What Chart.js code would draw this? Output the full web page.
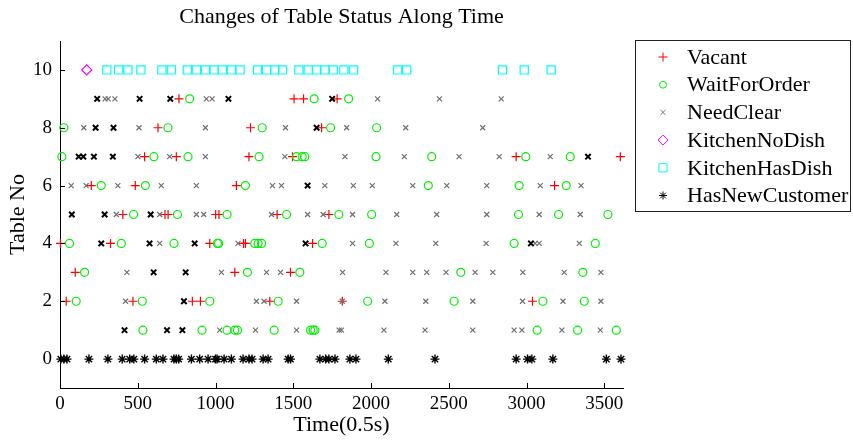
<!DOCTYPE html>
<html>
<head>
<meta charset="utf-8">
<title>Changes of Table Status Along Time</title>
<script src="https://cdn.jsdelivr.net/npm/chart.js@4.4.1/dist/chart.umd.min.js"></script>
<style>
    html, body { margin: 0; padding: 0; background: #fff; }
</style>
</head>
<body>
<canvas id="statusChart" width="853" height="443"></canvas>
<script>
// axis ticks
const timeTicks = [0, 500, 1000, 1500, 2000, 2500, 3000, 3500];
const tableTicks = [0, 2, 4, 6, 8, 10];

// [time, tableNo] pairs
const vacant = [
    [765, 9], [1505, 9], [1566, 9], [1782, 9],
    [630, 8], [1225, 8], [1682, 8],
    [544, 7], [748, 7], [1215, 7], [1495, 7], [2933, 7], [3603, 7],
    [201, 6], [484, 6], [1134, 6], [3180, 6],
    [404, 5], [675, 5], [695, 5], [1001, 5], [1022, 5], [1396, 5], [1729, 5],
    [3, 4], [325, 4], [963, 4], [1180, 4], [1192, 4], [1624, 4],
    [98, 3], [1124, 3], [1482, 3],
    [40, 2], [469, 2], [851, 2], [903, 2], [1349, 2], [1815, 2], [3038, 2]
];
const waitForOrder = [
    [834, 9], [1634, 9], [1856, 9],
    [25, 8], [694, 8], [1300, 8], [1740, 8], [2036, 8],
    [12, 7], [604, 7], [823, 7], [1280, 7], [1521, 7], [1557, 7], [1574, 7], [2032, 7], [2390, 7], [2995, 7], [3281, 7],
    [265, 6], [549, 6], [1192, 6], [2368, 6], [2952, 6], [3255, 6],
    [473, 5], [755, 5], [1074, 5], [1457, 5], [1793, 5], [2004, 5], [2948, 5], [3206, 5], [3523, 5],
    [61, 4], [394, 4], [733, 4], [1012, 4], [1020, 4], [1252, 4], [1274, 4], [1296, 4], [1686, 4], [1989, 4], [2920, 4], [3442, 4],
    [158, 3], [1205, 3], [1542, 3], [2577, 3], [3362, 3],
    [104, 2], [529, 2], [963, 2], [1403, 2], [1978, 2], [2534, 2], [3105, 2], [3371, 2],
    [533, 1], [913, 1], [1074, 1], [1124, 1], [1141, 1], [1377, 1], [1611, 1], [1628, 1], [1639, 1], [3068, 1], [3328, 1], [3577, 1]
];
const needClear = [
    [290, 9], [310, 9], [353, 9], [941, 9], [978, 9], [2042, 9], [2440, 9], [2837, 9],
    [153, 8], [508, 8], [935, 8], [1450, 8], [1843, 8], [2223, 8], [2718, 8],
    [501, 7], [705, 7], [935, 7], [1446, 7], [1832, 7], [2214, 7], [2566, 7], [2824, 7], [3152, 7],
    [72, 6], [168, 6], [372, 6], [651, 6], [877, 6], [1366, 6], [1424, 6], [1703, 6], [1886, 6], [2008, 6], [2268, 6], [2487, 6], [2744, 6], [3088, 6], [3350, 6],
    [362, 5], [641, 5], [877, 5], [924, 5], [1360, 5], [1592, 5], [1692, 5], [1881, 5], [2165, 5], [2422, 5], [2744, 5], [3081, 5], [3345, 5],
    [641, 4], [1145, 4], [1881, 4], [2160, 4], [2416, 4], [2740, 4], [3055, 4], [3081, 4], [3339, 4],
    [430, 3], [1038, 3], [1328, 3], [1418, 3], [1817, 3], [2096, 3], [2268, 3], [2358, 3], [2482, 3], [2669, 3], [2783, 3], [2976, 3], [3242, 3], [3478, 3],
    [422, 2], [1263, 2], [1312, 2], [1521, 2], [1815, 2], [2089, 2], [2352, 2], [2654, 2], [2974, 2], [3234, 2], [3478, 2],
    [1027, 1], [1257, 1], [1521, 1], [1795, 1], [1810, 1], [2083, 1], [2347, 1], [2654, 1], [2920, 1], [2970, 1], [3227, 1], [3474, 1]
];
const kitchenNoDish = [[172, 10]];
const kitchenHasDish = [
    [301, 10], [377, 10], [437, 10], [520, 10], [655, 10], [716, 10], [819, 10], [877, 10], [935, 10], [991, 10],
    [1044, 10], [1102, 10], [1158, 10], [1270, 10], [1328, 10], [1381, 10], [1431, 10], [1536, 10], [1596, 10],
    [1650, 10], [1703, 10], [1757, 10], [1825, 10], [1888, 10], [2171, 10], [2229, 10], [2845, 10], [2985, 10], [3158, 10]
];
const hasNewCustomer = [
    [239, 9], [512, 9], [709, 9], [1083, 9], [1750, 9],
    [229, 8], [344, 8], [1650, 8],
    [120, 7], [150, 7], [218, 7], [340, 7], [3395, 7],
    [1592, 6],
    [76, 5], [287, 5], [583, 5],
    [265, 4], [576, 4], [866, 4], [1579, 4], [3028, 4],
    [602, 3], [808, 3],
    [797, 2],
    [415, 1], [688, 1], [787, 1],
    [5, 0], [25, 0], [45, 0], [186, 0], [308, 0], [400, 0], [448, 0], [475, 0], [544, 0], [619, 0], [662, 0],
    [733, 0], [748, 0], [763, 0], [845, 0], [898, 0], [952, 0], [1000, 0], [1010, 0], [1055, 0], [1102, 0],
    [1177, 0], [1215, 0], [1235, 0], [1306, 0], [1338, 0], [1467, 0], [1482, 0], [1671, 0], [1708, 0],
    [1729, 0], [1768, 0], [1864, 0], [1903, 0], [2111, 0], [2411, 0], [2933, 0], [3006, 0], [3034, 0],
    [3169, 0], [3513, 0], [3607, 0]
];

const FONT = "'Liberation Serif', 'Times New Roman', serif";

function toPoints(list) {
    return list.map(p => ({ x: p[0], y: p[1] }));
}

// the asterisks on row 0 are plain stars, elsewhere they show as heavy crosses
const isStar = ctx => ctx.raw && ctx.raw.y === 0;

const datasets = [
    { label: 'Vacant', data: toPoints(vacant), pointStyle: 'cross', pointRadius: 4.5,
      pointBorderColor: '#ff0000', pointBorderWidth: 1.2, order: 5, legendStyle: 'cross', legendRadius: 4.5 },
    { label: 'WaitForOrder', data: toPoints(waitForOrder), pointStyle: 'circle', pointRadius: 4,
      pointBorderColor: '#00ee00', pointBorderWidth: 1.2, order: 4, legendStyle: 'circle', legendRadius: 3.5 },
    { label: 'NeedClear', data: toPoints(needClear), pointStyle: 'crossRot', pointRadius: 3.5,
      pointBorderColor: '#6e6e6e', pointBorderWidth: 1.2, order: 3, legendStyle: 'crossRot', legendRadius: 3.5 },
    { label: 'KitchenNoDish', data: toPoints(kitchenNoDish), pointStyle: 'rectRot', pointRadius: 5,
      pointBorderColor: '#ff00ff', pointBorderWidth: 1.2, order: 2, legendStyle: 'rectRot', legendRadius: 5 },
    { label: 'KitchenHasDish', data: toPoints(kitchenHasDish), pointStyle: 'rect', pointRadius: 5.8,
      pointBorderColor: '#00ffff', pointBorderWidth: 1.2, order: 1, legendStyle: 'rect', legendRadius: 5.8 },
    { label: 'HasNewCustomer', data: toPoints(hasNewCustomer),
      pointStyle: ctx => isStar(ctx) ? 'star' : 'crossRot',
      pointRadius: ctx => isStar(ctx) ? 4.5 : 3.8,
      pointBorderWidth: ctx => isStar(ctx) ? 1.4 : 2,
      pointBorderColor: '#000', order: 0, legendStyle: 'star', legendRadius: 4 }
];
datasets.forEach(ds => {
    ds.pointBackgroundColor = 'rgba(0,0,0,0)';
    ds.showLine = false;
    ds.clip = false;
});

// MATLAB style: inward tick marks and a boxed legend
const matlabDecor = {
    id: 'matlabDecor',
    afterDraw(chart) {
        const ctx = chart.ctx;
        const area = chart.chartArea;
        const xs = chart.scales.x, ys = chart.scales.y;
        ctx.save();
        ctx.strokeStyle = '#000';
        ctx.lineWidth = 1;
        ctx.beginPath();
        timeTicks.forEach(v => {
            const px = Math.round(xs.getPixelForValue(v)) + 0.5;
            ctx.moveTo(px, area.bottom);
            ctx.lineTo(px, area.bottom - 5);
        });
        tableTicks.forEach(v => {
            const py = Math.round(ys.getPixelForValue(v)) + 0.5;
            ctx.moveTo(area.left, py);
            ctx.lineTo(area.left + 5, py);
        });
        ctx.stroke();

        // legend
        ctx.strokeStyle = '#222';
        ctx.strokeRect(635.5, 40.5, 215, 171);
        ctx.font = '22px ' + FONT;
        ctx.textBaseline = 'middle';
        ctx.textAlign = 'left';
        chart.data.datasets.forEach((ds, i) => {
            const cy = 57 + i * 27.7;
            ctx.strokeStyle = ds.pointBorderColor;
            ctx.fillStyle = 'rgba(0,0,0,0)';
            ctx.lineWidth = 1;
            Chart.helpers.drawPoint(ctx, {
                pointStyle: ds.legendStyle, radius: ds.legendRadius, rotation: 0, borderWidth: 1
            }, 663, cy);
            ctx.fillStyle = '#000';
            ctx.fillText(ds.label, 687, cy + 1);
        });
        ctx.restore();
    }
};

new Chart(document.getElementById('statusChart'), {
    type: 'scatter',
    data: { datasets: datasets },
    options: {
        responsive: false,
        animation: false,
        events: [],
        layout: { padding: { top: 0, right: 230, bottom: 0, left: 0 } },
        plugins: {
            legend: { display: false },
            tooltip: { enabled: false },
            title: {
                display: true,
                text: 'Changes of Table Status Along Time',
                fullSize: false,
                color: '#000',
                font: { family: FONT, size: 22, weight: 'normal' },
                padding: { top: 4, bottom: 10.6 }
            }
        },
        scales: {
            x: {
                type: 'linear',
                min: 0,
                max: 3620,
                afterBuildTicks: s => { s.ticks = timeTicks.map(v => ({ value: v })); },
                afterFit: s => { s.height = 55; },
                grid: { display: false, drawTicks: false },
                border: { display: true, color: '#000', width: 1 },
                ticks: {
                    color: '#000', padding: 5, maxRotation: 0,
                    font: { family: FONT, size: 19 },
                    callback: v => String(v)
                },
                title: {
                    display: true, text: 'Time(0.5s)', color: '#000',
                    font: { family: FONT, size: 22 },
                    padding: { top: 0, bottom: 5 }
                }
            },
            y: {
                type: 'linear',
                min: -1,
                max: 11,
                afterBuildTicks: s => { s.ticks = tableTicks.map(v => ({ value: v })); },
                afterFit: s => { s.width = 60; },
                grid: { display: false, drawTicks: false },
                border: { display: true, color: '#000', width: 1 },
                ticks: {
                    color: '#000', padding: 8,
                    font: { family: FONT, size: 19 },
                    callback: v => String(v)
                },
                title: {
                    display: true, text: 'Table No', color: '#000',
                    font: { family: FONT, size: 22 },
                    padding: { top: 5, bottom: 0 }
                }
            }
        }
    },
    plugins: [matlabDecor]
});
</script>
</body>
</html>
